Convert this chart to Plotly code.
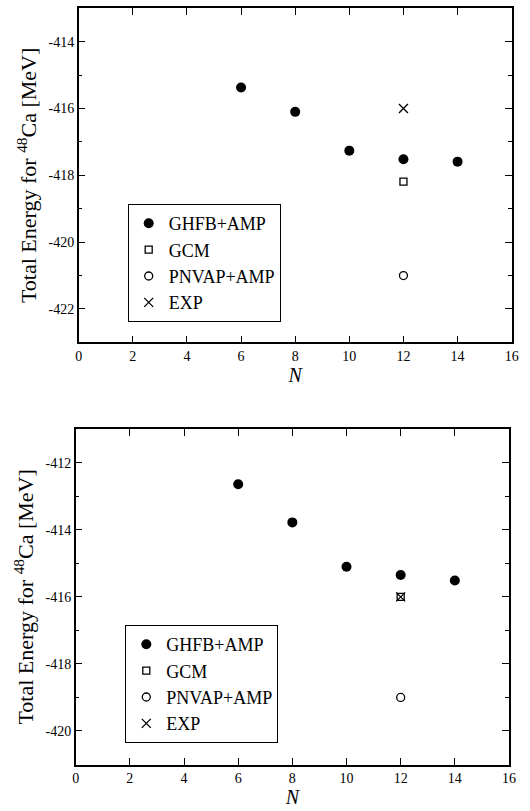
import plotly.graph_objects as go

# ---- data ----
N_ghfb = [6, 8, 10, 12, 14]
top_ghfb = [-415.37, -416.10, -417.26, -417.52, -417.59]
bot_ghfb = [-412.64, -413.78, -415.10, -415.35, -415.51]
N_single = [12]
top_gcm = [-418.19]
top_pnvap = [-421.0]
top_exp = [-416.0]
bot_gcm = [-416.0]
bot_pnvap = [-419.0]
bot_exp = [-416.0]

x_ticks = [0, 2, 4, 6, 8, 10, 12, 14, 16]
top_yticks = [-414, -416, -418, -420, -422]
bot_yticks = [-412, -414, -416, -418, -420]
top_yrange = [-423, -413]
bot_yrange = [-421, -411]
x_range = [0, 16]

FONT = "Liberation Serif"

fig = go.Figure()

def add_panel(suffix, legend, ghfb, gcm, pnvap, exp):
    xa = "x" + suffix
    ya = "y" + suffix
    fig.add_trace(go.Scatter(x=N_ghfb, y=ghfb, mode="markers", name="GHFB+AMP",
                             marker=dict(symbol="circle", size=10, color="black"),
                             xaxis=xa, yaxis=ya, legend=legend))
    fig.add_trace(go.Scatter(x=N_single, y=gcm, mode="markers", name="GCM",
                             marker=dict(symbol="square-open", size=7, color="black",
                                         line=dict(width=1.3, color="black")),
                             xaxis=xa, yaxis=ya, legend=legend))
    fig.add_trace(go.Scatter(x=N_single, y=pnvap, mode="markers", name="PNVAP+AMP",
                             marker=dict(symbol="circle-open", size=8, color="black",
                                         line=dict(width=1.3, color="black")),
                             xaxis=xa, yaxis=ya, legend=legend))
    fig.add_trace(go.Scatter(x=N_single, y=exp, mode="markers", name="EXP",
                             marker=dict(symbol="x-thin-open", size=9, color="black",
                                         line=dict(width=1.3, color="black")),
                             xaxis=xa, yaxis=ya, legend=legend))

add_panel("", "legend", top_ghfb, top_gcm, top_pnvap, top_exp)
add_panel("2", "legend2", bot_ghfb, bot_gcm, bot_pnvap, bot_exp)

def xaxis(domain, anchor):
    return dict(domain=domain, anchor=anchor, range=x_range, automargin=False,
                tickmode="array", tickvals=x_ticks, ticktext=[str(v) for v in x_ticks],
                ticks="inside", ticklen=7, tickwidth=1, tickcolor="black",
                showline=True, linewidth=1.5, linecolor="black", mirror="ticks",
                showgrid=False, zeroline=False,
                tickfont=dict(family=FONT, size=14, color="black"),
                title=dict(text="<i>N</i>", font=dict(family=FONT, size=20, color="black"),
                           standoff=4))

def yaxis(domain, anchor, rng, tv):
    return dict(domain=domain, anchor=anchor, range=rng, automargin=False,
                tickmode="array", tickvals=tv, ticktext=[str(v) for v in tv],
                ticks="inside", ticklen=7, tickwidth=1, tickcolor="black",
                minor=dict(dtick=1, tick0=rng[0], ticks="inside", ticklen=4,
                           tickwidth=1, tickcolor="black"),
                showline=True, linewidth=1.5, linecolor="black", mirror="ticks",
                showgrid=False, zeroline=False,
                tickfont=dict(family=FONT, size=14, color="black"),
                title=dict(text="Total Energy for <sup>48</sup>Ca [MeV]",
                           font=dict(family=FONT, size=22, color="black"),
                           standoff=6))

W, H = 530, 811
fig.update_layout(
    width=W, height=H,
    margin=dict(l=0, r=0, t=0, b=0, autoexpand=False),
    paper_bgcolor="white", plot_bgcolor="white",
    font=dict(family=FONT, color="black"),
    xaxis=xaxis([78.7 / W, 511.7 / W], "y"),
    yaxis=yaxis([1 - 342.4 / H, 1 - 8.3 / H], "x", top_yrange, top_yticks),
    xaxis2=xaxis([75.7 / W, 509 / W], "y2"),
    yaxis2=yaxis([1 - 764.5 / H, 1 - 429.2 / H], "x2", bot_yrange, bot_yticks),
    legend=dict(x=127.7 / W, y=1 - 204 / H, xanchor="left", yanchor="top",
                bordercolor="black", borderwidth=1, bgcolor="white",
                font=dict(family=FONT, size=18, color="black"),
                itemsizing="trace", tracegroupgap=0),
    legend2=dict(x=125.3 / W, y=1 - 625 / H, xanchor="left", yanchor="top",
                 bordercolor="black", borderwidth=1, bgcolor="white",
                 font=dict(family=FONT, size=18, color="black"),
                 itemsizing="trace", tracegroupgap=0),
    showlegend=True,
)

fig.write_html("out.html", config={"displayModeBar": False},
               post_script="document.body.style.margin='0px';document.body.style.overflow='hidden';")
